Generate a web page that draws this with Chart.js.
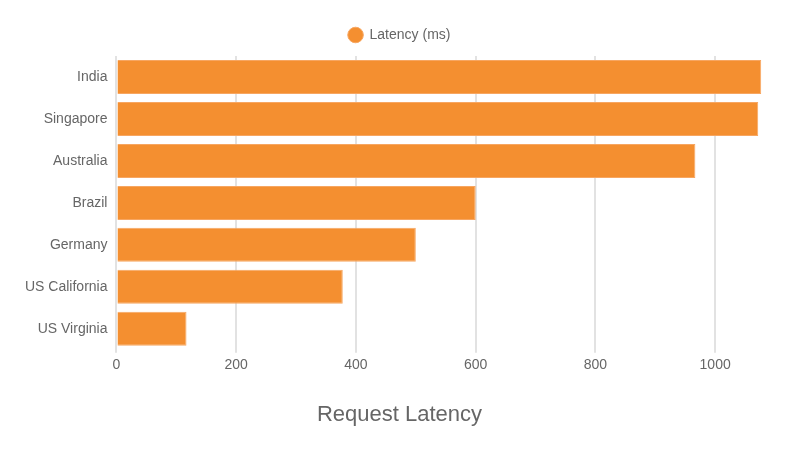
<!DOCTYPE html>
<html>
<head>
<meta charset="utf-8">
<script src="https://cdn.jsdelivr.net/npm/chart.js@4"></script>
<style>
  html, body { margin: 0; padding: 0; background: #fff; }
  #wrap { width: 800px; height: 450px; }
</style>
</head>
<body>
<div id="wrap"><canvas id="latencyChart"></canvas></div>
<script>
// données
const regions = ['India', 'Singapore', 'Australia', 'Brazil', 'Germany', 'US California', 'US Virginia'];
const latenceMs = [1077, 1072, 967, 600, 500, 378, 117];
const ticksX = [0, 200, 400, 600, 800, 1000];
const maxAxeX = 1100;

const couleurTexte = '#666666';
const policeBase = "'Liberation Sans', Arial, sans-serif";

new Chart(document.getElementById('latencyChart'), {
    type: 'bar',
    data: {
        labels: regions,
        datasets: [{
            label: 'Latency (ms)',
            data: latenceMs,
            backgroundColor: '#F48F30',
            borderColor: '#F7A661',
            borderWidth: 1,
            barPercentage: 1.0,
            categoryPercentage: 0.81
        }]
    },
    options: {
        indexAxis: 'y',
        responsive: true,
        maintainAspectRatio: false,
        animation: false,
        layout: { padding: { left: 24, right: 25, top: 15, bottom: 12 } },
        plugins: {
            legend: {
                position: 'top',
                labels: {
                    usePointStyle: true,
                    pointStyle: 'circle',
                    boxHeight: 11,
                    padding: 13,
                    color: couleurTexte,
                    font: { family: policeBase, size: 14 }
                }
            },
            title: {
                display: true,
                position: 'bottom',
                text: 'Request Latency',
                color: couleurTexte,
                font: { family: policeBase, size: 22, weight: 'normal' },
                padding: { top: 24, bottom: 10 }
            },
            tooltip: { enabled: false }
        },
        scales: {
            x: {
                min: 0,
                max: maxAxeX,
                afterBuildTicks: function(axe) {
                    // on garde seulement les graduations visibles sur l'original
                    axe.ticks = ticksX.map(v => ({ value: v }));
                },
                grid: { color: '#e2e2e2', lineWidth: 2, drawTicks: true, tickLength: 3 },
                border: { display: false },
                ticks: {
                    color: couleurTexte,
                    font: { family: policeBase, size: 14 },
                    padding: 4,
                    callback: function(valeur) {
                        return String(valeur); // pas de séparateur de milliers
                    }
                }
            },
            // axe vide en haut : sert juste à décaler la zone du graphique de quelques pixels
            espaceHaut: {
                axis: 'x',
                type: 'linear',
                position: 'top',
                grid: { display: false },
                border: { display: false },
                ticks: { display: false },
                afterFit: function(axe) { axe.height = 4; }
            },
            y: {
                grid: { display: false },
                border: { display: false },
                ticks: {
                    color: couleurTexte,
                    font: { family: policeBase, size: 14 },
                    padding: 1
                }
            }
        }
    }
});
</script>
</body>
</html>
